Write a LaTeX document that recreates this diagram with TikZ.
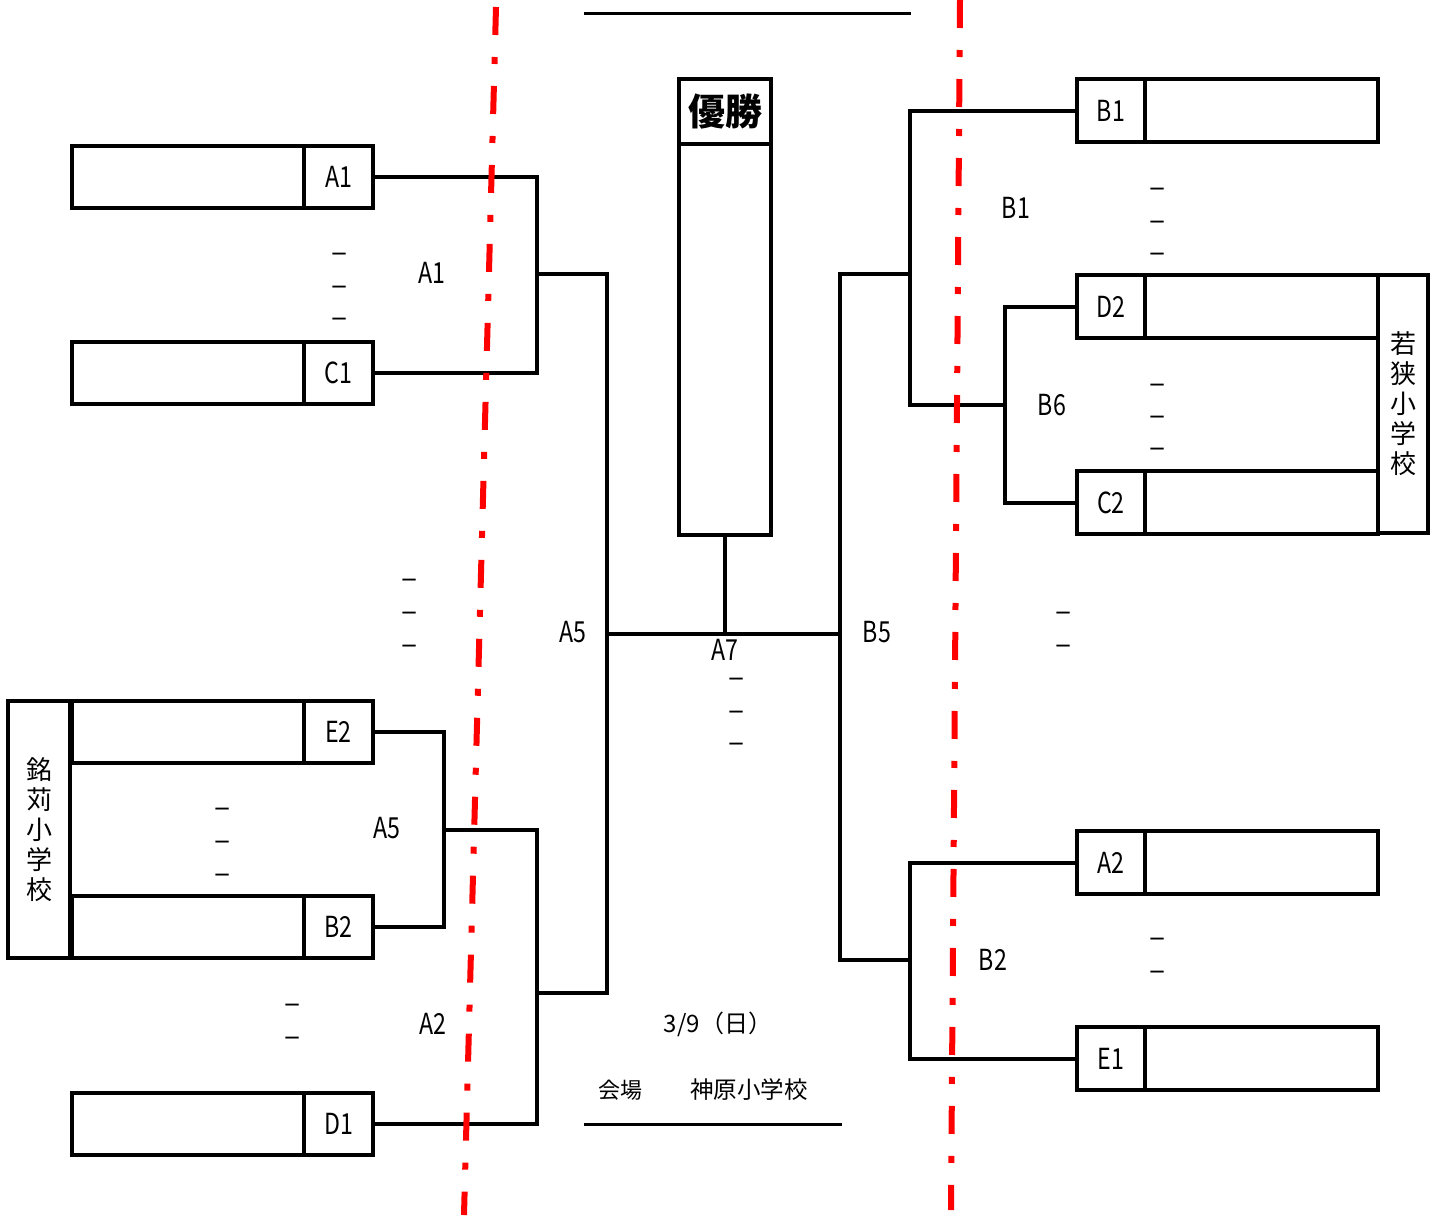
\documentclass[tikz,border=0pt]{standalone}
\usepackage{fontspec}
\setmainfont{Noto Sans CJK JP}
\newcommand{\narrowtxt}[1]{\scalebox{0.8}[1]{#1}}
\begin{document}
\begin{tikzpicture}[x=1pt,y=-1pt,
  conn/.style={line width=4pt, line join=miter},
  cell/.style={draw, line width=4pt, inner sep=0pt, outer sep=0pt, anchor=north west},
  lcell/.style={cell, minimum width=232pt, minimum height=62pt},
  lcode/.style={cell, minimum width=69pt, minimum height=62pt, font=\fontsize{29}{30}\selectfont},
  rcell/.style={cell, minimum width=233pt, minimum height=63pt},
  rcode/.style={cell, minimum width=68pt, minimum height=63pt, font=\fontsize{29}{30}\selectfont},
  lab/.style={font=\fontsize{29}{30}\selectfont, inner sep=0pt},
  dsh/.style={font=\fontsize{30}{32}\selectfont, inner sep=0pt},
  school/.style={cell, align=center, font=\fontsize{26}{30}\selectfont},
  redline/.style={red, line width=6pt, dash pattern=on 28pt off 22pt on 7pt off 22pt}]
\useasboundingbox (0,0) rectangle (1446,1216);

% left boxes
\node[lcell] (nA1) at (72,146) {};
\node[lcode] (cA1) at (304,146) {\narrowtxt{A1}};
\node[lcell] (nC1) at (72,342) {};
\node[lcode] (cC1) at (304,342) {\narrowtxt{C1}};
\node[school, minimum width=62pt, minimum height=257pt] (sL) at (8,701) {銘\\苅\\小\\学\\校};
\node[lcell] (nE2) at (72,701) {};
\node[lcode] (cE2) at (304,701) {\narrowtxt{E2}};
\node[lcell] (nB2) at (72,896) {};
\node[lcode] (cB2) at (304,896) {\narrowtxt{B2}};
\node[lcell] (nD1) at (72,1093) {};
\node[lcode] (cD1) at (304,1093) {\narrowtxt{D1}};

% right boxes
\node[rcode] (cB1) at (1077,79) {\narrowtxt{B1}};
\node[rcell] (nB1) at (1145,79) {};
\node[rcode] (cD2) at (1077,275) {\narrowtxt{D2}};
\node[rcell] (nD2) at (1145,275) {};
\node[rcode] (cC2) at (1077,471) {\narrowtxt{C2}};
\node[rcell] (nC2) at (1145,471) {};
\node[school, minimum width=50pt, minimum height=258pt] (sR) at (1378,275) {若\\狭\\小\\学\\校};
\node[rcode] (cA2) at (1077,831) {\narrowtxt{A2}};
\node[rcell] (nA2) at (1145,831) {};
\node[rcode] (cE1) at (1077,1027) {\narrowtxt{E1}};
\node[rcell] (nE1) at (1145,1027) {};

% champion
\node[cell, minimum width=92pt, minimum height=65pt, font=\fontsize{37}{40}\selectfont\bfseries] (champT) at (679,79) {\raisebox{1pt}{優勝}};
\node[cell, minimum width=92pt, minimum height=391pt] (champ) at (679,144) {};

% junctions
\coordinate (kL1) at (537,274);
\coordinate (kL2) at (444,830);
\coordinate (kL3) at (537,993);
\coordinate (kL4) at (607,634);
\coordinate (kR1) at (910,274);
\coordinate (kR2) at (1005,405);
\coordinate (kR3) at (910,960);
\coordinate (kR4) at (840,634);
\coordinate (kF) at (champ.south |- kL4);

% connectors
\draw[conn] (cA1.east) -| (kL1) |- (cC1.east);
\draw[conn] (cE2.east) -| (kL2) |- (cB2.east);
\draw[conn] (kL2) -| (kL3) |- (cD1.east);
\draw[conn] (kL1) -| (kL4) |- (kL3);
\draw[conn] (kL4) -- (kR4);
\draw[conn] (champ.south) -- (kF);
\draw[conn] (cB1.west) -| (kR1) |- (kR2);
\draw[conn] (cD2.west) -| (kR2) |- (cC2.west);
\draw[conn] (cA2.west) -| (kR3) |- (cE1.west);
\draw[conn] (kR1) -| (kR4) |- (kR3);

% top / bottom rules
\coordinate (t1) at (584,13); \coordinate (t2) at (911,13);
\draw[line width=3pt] (t1) -- (t2);
\coordinate (b1) at (584,1124); \coordinate (b2) at (842,1124);
\draw[line width=3pt] (b1) -- (b2);

% round labels
\node[lab] (lA1) at (432,273) {\narrowtxt{A1}};
\node[lab] (lA5a) at (387,828) {\narrowtxt{A5}};
\node[lab] (lA2) at (433,1024) {\narrowtxt{A2}};
\node[lab] (lA5b) at (573,632) {\narrowtxt{A5}};
\node[lab] (lA7) at (725,650) {\narrowtxt{A7}};
\node[lab] (lB5) at (877,632) {\narrowtxt{B5}};
\node[lab] (lB1) at (1016,208) {\narrowtxt{B1}};
\node[lab] (lB6) at (1052,405) {\narrowtxt{B6}};
\node[lab] (lB2) at (993,960) {\narrowtxt{B2}};

% small dashes
\foreach \x/\y [count=\i] in {340/258,340/291,340/323,410/584,410/617,410/650,223/813,223/846,223/879,293/1009,293/1042,737/683,737/716,737/748,1064/617,1064/650,1158/193,1158/226,1158/258,1158/389,1158/421,1158/453,1158/943,1158/976}
  \node[dsh] (d\i) at (\x,\y) {–};

% date / venue
\node[font=\fontsize{24}{26}\selectfont, inner sep=0pt] (date) at (718,1024) {3/9（日）};
\node[font=\fontsize{22}{24}\selectfont, inner sep=0pt] (venueL) at (620,1090) {会場};
\node[font=\fontsize{23.5}{26}\selectfont, inner sep=0pt] (venue) at (749,1090) {神原小学校};

% red dash-dot lines
\coordinate (r1a) at (496,7); \coordinate (r1b) at (464,1215);
\coordinate (r2a) at (960,0); \coordinate (r2b) at (951,1210);
\draw[redline] (r1a) -- (r1b);
\draw[redline] (r2a) -- (r2b);
\end{tikzpicture}
\end{document}
